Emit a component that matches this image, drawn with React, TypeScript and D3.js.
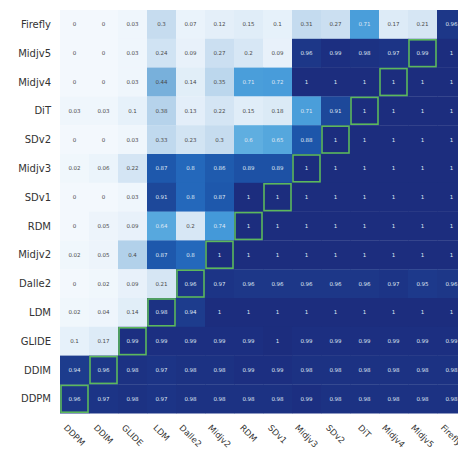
import React, { useMemo } from "react";
import * as d3 from "d3";

const colLabels = ["DDPM", "DDIM", "GLIDE", "LDM", "Dalle2", "Midjv2", "RDM", "SDv1", "Midjv3", "SDv2", "DiT", "Midjv4", "Midjv5", "Firefly"];
const rowLabels = ["Firefly", "Midjv5", "Midjv4", "DiT", "SDv2", "Midjv3", "SDv1", "RDM", "Midjv2", "Dalle2", "LDM", "GLIDE", "DDIM", "DDPM"];

const rowFirefly = [0, 0, 0.03, 0.3, 0.07, 0.12, 0.15, 0.1, 0.31, 0.27, 0.71, 0.17, 0.21, 0.96];
const rowMidjv5 = [0, 0, 0.03, 0.24, 0.09, 0.27, 0.2, 0.09, 0.96, 0.99, 0.98, 0.97, 0.99, 1];
const rowMidjv4 = [0, 0, 0.03, 0.44, 0.14, 0.35, 0.71, 0.72, 1, 1, 1, 1, 1, 1];
const rowDiT = [0.03, 0.03, 0.1, 0.38, 0.13, 0.22, 0.15, 0.18, 0.71, 0.91, 1, 1, 1, 1];
const rowSDv2 = [0, 0, 0.03, 0.33, 0.23, 0.3, 0.6, 0.65, 0.88, 1, 1, 1, 1, 1];
const rowMidjv3 = [0.02, 0.06, 0.22, 0.87, 0.8, 0.86, 0.89, 0.89, 1, 1, 1, 1, 1, 1];
const rowSDv1 = [0, 0, 0.03, 0.91, 0.8, 0.87, 1, 1, 1, 1, 1, 1, 1, 1];
const rowRDM = [0, 0.05, 0.09, 0.64, 0.2, 0.74, 1, 1, 1, 1, 1, 1, 1, 1];
const rowMidjv2 = [0.02, 0.05, 0.4, 0.87, 0.8, 1, 1, 1, 1, 1, 1, 1, 1, 1];
const rowDalle2 = [0, 0.02, 0.09, 0.21, 0.96, 0.97, 0.96, 0.96, 0.96, 0.96, 0.96, 0.97, 0.95, 0.96];
const rowLDM = [0.02, 0.04, 0.14, 0.98, 0.94, 1, 1, 1, 1, 1, 1, 1, 1, 1];
const rowGLIDE = [0.1, 0.17, 0.99, 0.99, 0.99, 0.99, 0.99, 1, 0.99, 0.99, 0.99, 0.99, 0.99, 0.99];
const rowDDIM = [0.94, 0.96, 0.98, 0.97, 0.98, 0.98, 0.99, 0.99, 0.98, 0.98, 0.98, 0.98, 0.98, 0.98];
const rowDDPM = [0.96, 0.97, 0.98, 0.97, 0.98, 0.98, 0.98, 0.98, 0.99, 0.98, 0.98, 0.98, 0.98, 0.98];

const matrix = [rowFirefly, rowMidjv5, rowMidjv4, rowDiT, rowSDv2, rowMidjv3, rowSDv1, rowRDM, rowMidjv2, rowDalle2, rowLDM, rowGLIDE, rowDDIM, rowDDPM];

const colorStops = [0, 0.15, 0.3, 0.4, 0.44, 0.6, 0.75, 0.8, 0.88, 0.93, 1];
const colorRange = ["#f3f8fd", "#e0edf8", "#c6dcef", "#b2d1ea", "#78b0db", "#5faee0", "#4298d8", "#2468bb", "#1d56aa", "#1d3e90", "#1c2d7e"];

const W = 458;
const H = 454;
const left = 60;
const top = 10;
const cellW = 29;
const cellH = 28.8;
const FONT = '"DejaVu Sans", sans-serif';

export default function App() {
  const x = d3.scaleBand<string>().domain(colLabels).range([left, left + cellW * colLabels.length]).padding(0);
  const y = d3.scaleBand<string>().domain(rowLabels).range([top, top + cellH * rowLabels.length]).padding(0);
  const color = d3.scaleLinear<string>().domain(colorStops).range(colorRange).interpolate(d3.interpolateRgb).clamp(true);
  const bottom = top + cellH * rowLabels.length;

  const widths = useMemo(() => {
    const c = document.createElement("canvas").getContext("2d");
    const out: Record<string, number> = {};
    colLabels.forEach((l) => {
      if (c) {
        c.font = '8.5px "DejaVu Sans"';
        out[l] = c.measureText(l).width;
      } else out[l] = l.length * 5.5;
    });
    return out;
  }, []);

  return (
    <svg width={W} height={H} style={{ position: "absolute", left: 0, top: 0, background: "#fff" }} fontFamily={FONT}>
      {matrix.map((row, ri) =>
        row.map((v, ci) => (
          <rect
            key={`c${ri}-${ci}`}
            x={x(colLabels[ci])}
            y={y(rowLabels[ri])}
            width={x.bandwidth() + 0.3}
            height={y.bandwidth() + 0.3}
            fill={color(v)}
          />
        ))
      )}
      {matrix.map((row, ri) =>
        row.map((v, ci) => (
          <text
            key={`t${ri}-${ci}`}
            x={(x(colLabels[ci]) as number) + x.bandwidth() / 2}
            y={(y(rowLabels[ri]) as number) + y.bandwidth() / 2}
            textAnchor="middle"
            dominantBaseline="central"
            fontSize={5.5}
            fill={v > 0.5 ? "#dfe7f4" : "#4a4a4a"}
          >
            {String(v)}
          </text>
        ))
      )}
      {rowLabels.map((r) => {
        const ci = colLabels.indexOf(r);
        if (r === "Firefly") return null;
        return (
          <rect
            key={`g${r}`}
            x={(x(colLabels[ci]) as number) + 1}
            y={(y(r) as number) + 1}
            width={x.bandwidth() - 2}
            height={y.bandwidth() - 2}
            fill="none"
            stroke="#5cb85c"
            strokeWidth={1.6}
          />
        );
      })}
      {rowLabels.map((r) => (
        <text
          key={`yl${r}`}
          x={51}
          y={(y(r) as number) + y.bandwidth() / 2}
          textAnchor="end"
          dominantBaseline="central"
          fontSize={10}
          fill="#333"
        >
          {r}
        </text>
      ))}
      {colLabels.map((c) => {
        const cx = (x(c) as number) + x.bandwidth() / 2;
        const cy = bottom + 10 + (widths[c] + 8.5) * 0.3536;
        return (
          <text
            key={`xl${c}`}
            transform={`translate(${cx},${cy}) rotate(45)`}
            textAnchor="middle"
            dominantBaseline="central"
            fontSize={8.5}
            fill="#333"
          >
            {c}
          </text>
        );
      })}
    </svg>
  );
}
